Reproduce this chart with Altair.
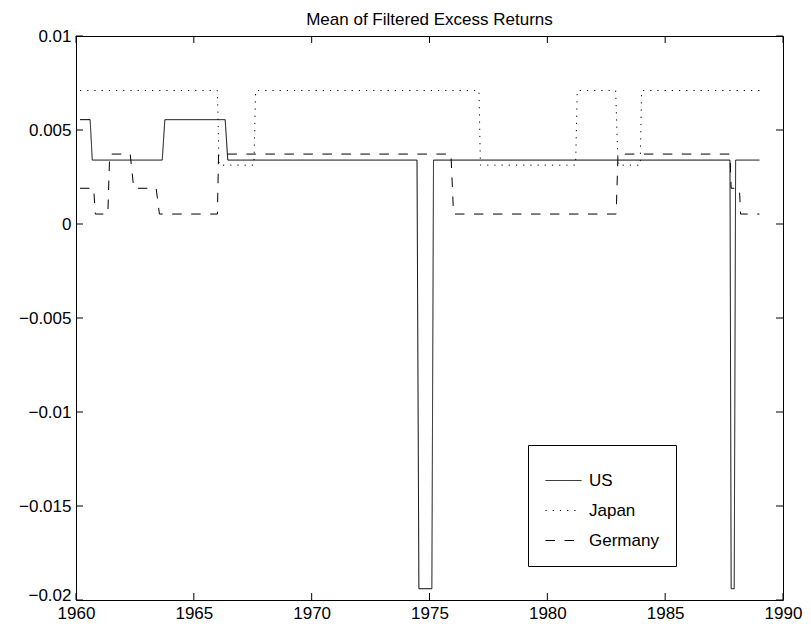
import altair as alt
import pandas as pd

FONT = "Liberation Sans"
FS = 17

series_names = ["US", "Japan", "Germany"]

us_years = [1960.17, 1960.6, 1960.69, 1963.66, 1963.77, 1966.33, 1966.44, 1974.47, 1974.55,
            1975.1, 1975.17, 1987.75, 1987.8, 1987.93, 1987.99, 1989.0]
us_vals = [0.00555, 0.00555, 0.0034, 0.0034, 0.00555, 0.00555, 0.0034, 0.0034, -0.0194,
           -0.0194, 0.0034, 0.0034, -0.0194, -0.0194, 0.0034, 0.0034]

japan_years = [1960.17, 1966.0, 1966.07, 1967.55, 1967.62, 1977.1, 1977.16, 1981.2, 1981.27,
               1982.9, 1983.0, 1983.94, 1984.0, 1989.0]
japan_vals = [0.0071, 0.0071, 0.00313, 0.00313, 0.0071, 0.0071, 0.00313, 0.00313, 0.0071,
              0.0071, 0.00313, 0.00313, 0.0071, 0.0071]

germany_years = [1960.17, 1960.75, 1960.82, 1961.35, 1961.43, 1962.3, 1962.45, 1963.4, 1963.54,
                 1966.0, 1966.05, 1975.91, 1976.02, 1982.92, 1983.0, 1987.75, 1987.8, 1988.15,
                 1988.2, 1989.0]
germany_vals = [0.0019, 0.0019, 0.00053, 0.00053, 0.00372, 0.00372, 0.0019, 0.0019, 0.00053,
                0.00053, 0.00372, 0.00372, 0.00053, 0.00053, 0.00372, 0.00372, 0.0019, 0.0019,
                0.00053, 0.00053]

x_ticks = [1960, 1965, 1970, 1975, 1980, 1985, 1990]
y_ticks = [-0.02, -0.015, -0.01, -0.005, 0, 0.005, 0.01]

dash_patterns = [[1, 0], [1.2, 6], [9.5, 9.5]]

rows = []
for name, yrs, vals in [("US", us_years, us_vals), ("Japan", japan_years, japan_vals),
                        ("Germany", germany_years, germany_vals)]:
    for i, (yr, v) in enumerate(zip(yrs, vals)):
        rows.append({"series": name, "year": yr, "value": v, "idx": i})
df = pd.DataFrame(rows)

W, H = 707, 564
TL = 7

x_scale = alt.Scale(domain=[1960, 1990], nice=False, zero=False)
y_scale = alt.Scale(domain=[-0.02, 0.01], nice=False, zero=False)


def x_axis():
    return alt.Axis(values=x_ticks, format="d", title=None, ticks=False, tickSize=0,
                    domain=False, grid=False, labelPadding=5, labelFlush=False)


def y_axis():
    return alt.Axis(values=y_ticks, format="~g", title=None, ticks=False, tickSize=0,
                    domain=False, grid=False, labelPadding=5, labelFlush=False,
                    labelBaseline={"condition": {"test": "datum.value < -0.019",
                                                 "value": "alphabetic"},
                                   "value": "middle"})


lines = alt.Chart(df).mark_line(color="black", strokeWidth=1, clip=True).encode(
    x=alt.X("year:Q", scale=x_scale, axis=x_axis()),
    y=alt.Y("value:Q", scale=y_scale, axis=y_axis()),
    strokeDash=alt.StrokeDash(
        "series:N",
        scale=alt.Scale(domain=series_names, range=dash_patterns),
        legend=alt.Legend(orient="none", legendX=452, legendY=409, title=None,
                          symbolType="stroke", symbolSize=1296, symbolStrokeColor="black",
                          symbolStrokeWidth=1, padding=17, strokeColor="black",
                          fillColor="white", labelOffset=7, rowPadding=3),
    ),
    order="idx:Q",
)

xt = pd.DataFrame({"t": x_ticks})
yt = pd.DataFrame({"t": y_ticks})

xb = alt.Chart(xt).mark_rule(color="black", strokeWidth=1).encode(
    x=alt.X("t:Q", scale=x_scale, axis=x_axis()), y=alt.value(H), y2=alt.value(H - TL))
xtp = alt.Chart(xt).mark_rule(color="black", strokeWidth=1).encode(
    x=alt.X("t:Q", scale=x_scale, axis=x_axis()), y=alt.value(0), y2=alt.value(TL))
yl = alt.Chart(yt).mark_rule(color="black", strokeWidth=1).encode(
    y=alt.Y("t:Q", scale=y_scale, axis=y_axis()), x=alt.value(0), x2=alt.value(TL))
yr = alt.Chart(yt).mark_rule(color="black", strokeWidth=1).encode(
    y=alt.Y("t:Q", scale=y_scale, axis=y_axis()), x=alt.value(W - TL), x2=alt.value(W))

chart = alt.layer(lines, xb, xtp, yl, yr).properties(
    width=W, height=H,
    title=alt.Title("Mean of Filtered Excess Returns", fontSize=FS, fontWeight="normal",
                    font=FONT, color="black", anchor="middle", offset=0, dy=2,
                    frame="group"),
    autosize=alt.AutoSizeParams(type="none"),
    padding={"left": 68, "top": 28, "right": 20, "bottom": 25},
    background="white",
).configure_view(stroke="black", strokeWidth=1).configure_axis(
    labelFont=FONT, labelFontSize=FS, labelColor="black"
).configure_legend(labelFont=FONT, labelFontSize=FS, labelColor="black")

chart.save("out.html", embed_options={"renderer": "svg", "actions": False})
